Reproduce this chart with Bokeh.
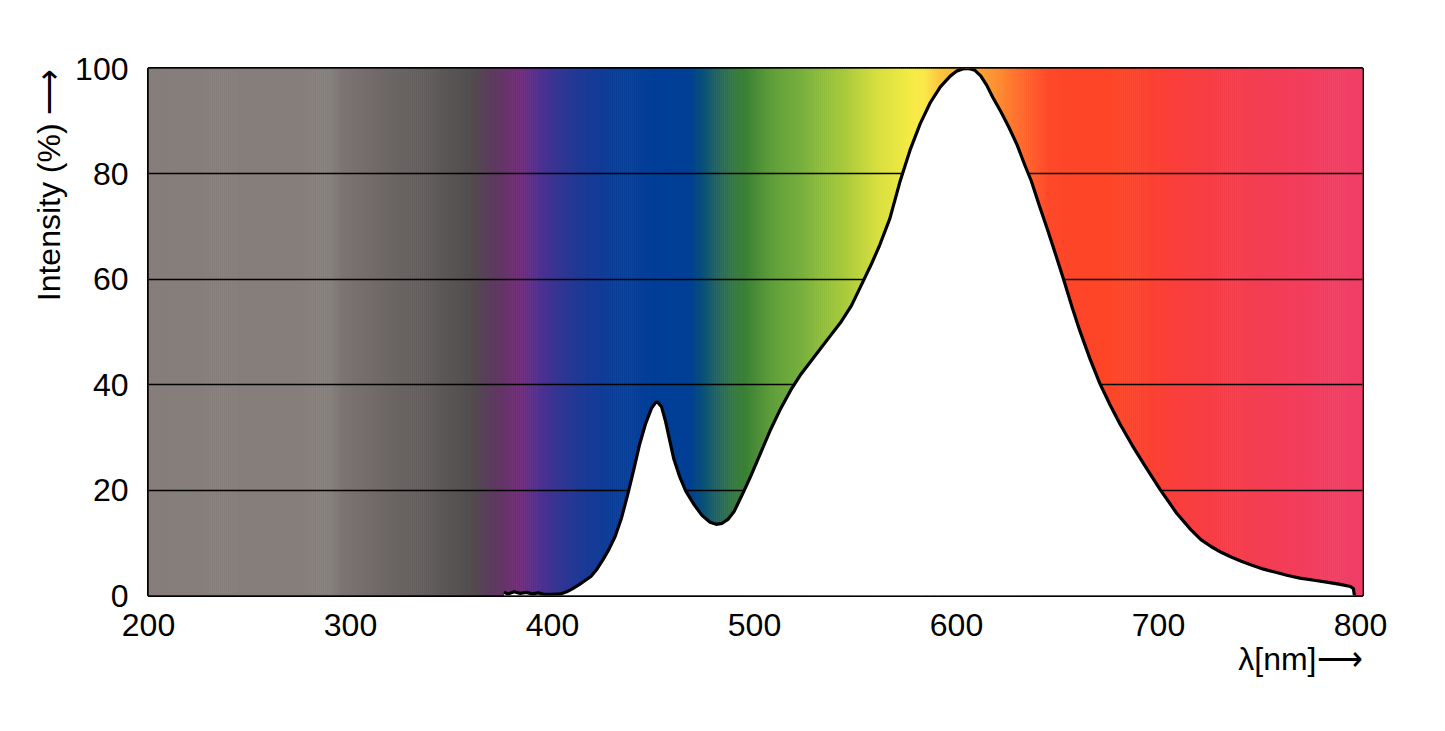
import numpy as np
from bokeh.plotting import figure
from bokeh.models import FixedTicker, Range1d, Title
from bokeh.embed import file_html
from bokeh.resources import INLINE

# spectrum colour stops (wavelength nm, colour)
stop_nm = [200, 283, 290, 296, 320, 344, 360, 368, 376, 384, 392, 402, 414, 430,
           455, 468, 475, 482, 490, 495, 508, 523, 543, 561, 578, 584, 592, 605,
           618, 632, 645, 660, 683, 707, 741, 770, 802]
stop_col = ["#867e7b", "#877f7c", "#84807c", "#7c7574", "#6c6665", "#5e5959", "#524d4e",
            "#5a3f5c", "#653468", "#722a7a", "#543090", "#363593", "#1d3a96", "#0a3e98",
            "#003f98", "#003f95", "#0a5378", "#236560", "#357a40", "#3a8035", "#5f9e3b",
            "#78b03e", "#a5c83b", "#d8e040", "#f6ec45", "#fbe944", "#fcc43a", "#fdae38",
            "#fe9533", "#ff6a2e", "#ff4a2a", "#fe4528", "#fe4528", "#fa3f3b", "#f43d4e",
            "#f33d5c", "#f03f68"]

# measured emission spectrum
wavelength = [376, 378, 381, 384, 387, 390, 393, 396, 400, 404, 407, 410, 413, 416, 419,
              422, 425, 428, 431, 434, 437, 440, 443, 446, 449, 451, 452, 454, 456, 458,
              460, 463, 466, 470, 474, 478, 481, 484, 487, 490, 494, 498, 503, 508, 513,
              518, 523, 528, 533, 538, 543, 548, 553, 558, 562, 567, 572, 577, 582, 587,
              592, 597, 600, 603, 606, 609, 612, 615, 618, 622, 626, 630, 634, 637, 641, 645,
              648, 653, 657, 661, 666, 671, 676, 681, 687, 693, 701, 705, 709, 716, 721,
              726, 731, 736, 741, 746, 752, 758, 764, 770, 777, 784, 790, 795, 796.5, 797]
intensity = [0.6, 0.3, 0.7, 0.4, 0.6, 0.3, 0.5, 0.2, 0.2, 0.3, 0.7, 1.3, 2.0, 2.8, 3.6,
             5.0, 6.8, 8.8, 11.2, 14.5, 18.8, 23.5, 28.5, 32.5, 35.5, 36.6, 36.7, 35.8, 33.0, 29.5,
             26.0, 22.5, 19.8, 17.3, 15.2, 13.9, 13.5, 13.7, 14.5, 16.0, 19.2, 22.5, 27.0, 31.5, 35.5,
             39.0, 42.0, 44.5, 47.0, 49.5, 52.0, 55.0, 59.0, 63.0, 66.5, 71.5, 78.5, 84.5, 89.5, 93.5,
             96.5, 98.6, 99.5, 99.9, 100.0, 99.7, 98.6, 96.8, 94.5, 91.8, 88.8, 85.5, 81.5, 78.7, 74.0, 69.5,
             66.0, 60.0, 55.0, 50.3, 45.0, 40.2, 36.2, 32.5, 28.5, 24.8, 20.0, 17.8, 15.6, 12.5, 10.6,
             9.3, 8.2, 7.3, 6.5, 5.8, 5.0, 4.4, 3.8, 3.3, 2.9, 2.5, 2.1, 1.7, 1.3, 0.0]

x_ticks = [200, 300, 400, 500, 600, 700, 800]
y_ticks = [0, 20, 40, 60, 80, 100]
x_title = "λ[nm]\u27f6"
y_title = "Intensity (%) \u27f6"

FONT = "Liberation Sans"
W, H = 1430, 715


def hex2rgb(h):
    return np.array([int(h[i:i + 2], 16) for i in (1, 3, 5)], dtype=float)


rgb = np.array([hex2rgb(c) for c in stop_col])
grad_nm = np.arange(200, 802, 1.0)
cols = []
for w in grad_nm:
    r = np.interp(w + 0.5, stop_nm, rgb[:, 0])
    g = np.interp(w + 0.5, stop_nm, rgb[:, 1])
    b = np.interp(w + 0.5, stop_nm, rgb[:, 2])
    cols.append("#%02x%02x%02x" % (int(r), int(g), int(b)))

p = figure(width=W, height=H, output_backend="svg", toolbar_location=None,
           x_range=Range1d(200, 801), y_range=Range1d(0, 100),
           min_border_left=148, min_border_top=68, min_border_right=68, min_border_bottom=120)

p.quad(left=grad_nm, right=grad_nm + 1.3, bottom=0, top=100, fill_color=cols,
       line_color=None, level="image")

p.varea(x=wavelength, y1=0, y2=intensity, fill_color="white")
p.line(x=wavelength, y=intensity, line_color="black", line_width=3.2)

p.xgrid.grid_line_color = None
p.ygrid.grid_line_color = "black"
p.ygrid.grid_line_width = 1.5
p.ygrid.ticker = FixedTicker(ticks=[20, 40, 60, 80])

p.xaxis.ticker = FixedTicker(ticks=x_ticks)
p.yaxis.ticker = FixedTicker(ticks=y_ticks)
for ax in (p.xaxis[0], p.yaxis[0]):
    ax.axis_line_color = None
    ax.major_tick_line_color = None
    ax.minor_tick_line_color = None
    ax.major_label_text_font = FONT
    ax.major_label_text_font_size = "32px"
    ax.major_label_text_color = "black"
p.xaxis.major_label_standoff = 12
p.yaxis.major_label_standoff = 14

p.add_layout(Title(text=x_title, align="right", text_font=FONT, text_font_size="32px",
                   text_font_style="normal", text_color="black", standoff=0), "below")
p.add_layout(Title(text=y_title, align="right", text_font=FONT, text_font_size="32px",
                   text_font_style="normal", text_color="black", standoff=12), "left")

p.outline_line_color = "black"
p.outline_line_width = 3
p.background_fill_color = "white"

open("out.html", "w").write(file_html(p, INLINE))
